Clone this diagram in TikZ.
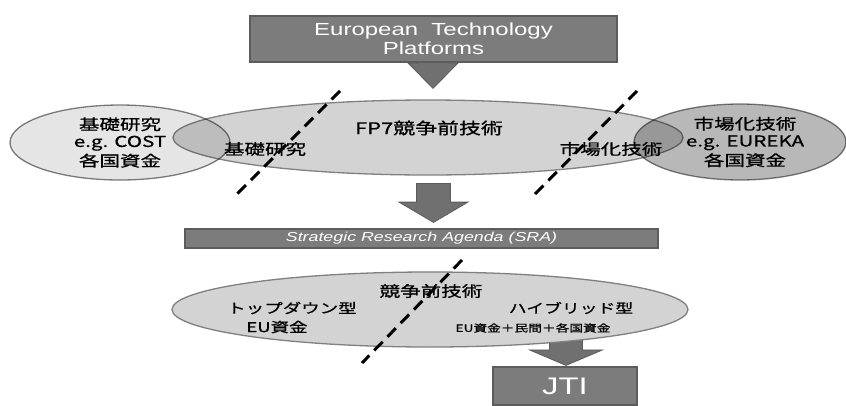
\documentclass[tikz,border=0pt]{standalone}
\usepackage{fontspec}
\setmainfont[FakeStretch=1.37]{Liberation Sans}
\newfontfamily\jp[FakeStretch=1.37, FakeBold=0.8]{Noto Sans CJK JP}
\usetikzlibrary{shapes.geometric, shapes.arrows, positioning}
\definecolor{cBox}{RGB}{124,124,124}
\definecolor{bBox}{RGB}{92,92,92}
\definecolor{cArrow}{RGB}{112,112,112}
\definecolor{cMain}{RGB}{211,211,211}
\definecolor{cLeft}{RGB}{229,229,229}
\definecolor{cRight}{RGB}{184,184,184}
\definecolor{bOval}{RGB}{128,128,128}

\begin{document}
\begin{tikzpicture}[
    x=1pt, y=-1pt,
    box/.style={
        draw=bBox,
        fill=cBox,
        line width=1.2pt,
        text=white,
        align=center,
        inner sep=0pt
    },
    oval/.style={
        ellipse,
        draw=bOval,
        fill=#1,
        line width=1.3pt,
        inner sep=0pt
    },
    fatarrow/.style={
        single arrow,
        shape border rotate=270,
        draw=bBox,
        fill=cArrow,
        line width=0.8pt,
        single arrow head indent=0pt,
        minimum width=0pt,
        inner ysep=0pt,
        anchor=tail
    },
    jtext/.style={font=\jp\fontsize{#1}{#1}\selectfont, inner sep=0pt},
    cut/.style={line width=3pt, dash pattern=on 12pt off 7pt}
]
\useasboundingbox (0,0) rectangle (846,405);

% arrows first, boxes on top
\node[fatarrow, inner xsep=15pt, single arrow head extend=9.5pt,
      single arrow tip angle=89, minimum height=26pt] (arr1) at (433,62) {};

\node[box, minimum width=367pt, minimum height=46pt,
      font=\fontsize{17.5}{19}\selectfont] (etp) at (433.5,39)
    {European\ \ Technology\\Platforms};

% FP7 and its neighbours
\node[oval=cMain, minimum width=510pt, minimum height=75pt] (fp7) at (428,137.5) {};
\begin{scope}[blend mode=multiply]
\node[oval=cLeft, minimum width=220pt, minimum height=75pt] (cost) at (120,142.5) {};
\node[oval=cRight, minimum width=212pt, minimum height=76pt] (eureka) at (740,142) {};
\end{scope}

\node[jtext=16] (fp7lab) at (429,128) {FP7競争前技術};
\node[jtext=15] (basic) at (265,149) {基礎研究};
\node[jtext=15] (market) at (611,149) {市場化技術};
\node[jtext=15, align=center] (costlab) at (120,142.5)
    {基礎研究\\[2pt]e.g. COST\\[2pt]各国資金};
\node[jtext=15, align=center] (eurekalab) at (745,142)
    {市場化技術\\[2pt]e.g. EUREKA\\[2pt]各国資金};

\coordinate (c1a) at (340,91);
\coordinate (c1b) at (237,194);
\coordinate (c2a) at (637,91);
\coordinate (c2b) at (535,194);
\draw[cut] (c1a) -- (c1b);
\draw[cut] (c2a) -- (c2b);

\node[fatarrow, inner xsep=16.5pt, single arrow head extend=17.5pt,
      single arrow tip angle=119, minimum height=39pt] (arr2) at (433.5,183) {};

% SRA
\node[box, minimum width=473pt, minimum height=19pt,
      font=\itshape\fontsize{13}{13}\selectfont] (sra) at (421.5,238.5)
    {Strategic Research Agenda (SRA)};

% pre-competitive
\node[fatarrow, inner xsep=16pt, single arrow head extend=20pt,
      single arrow tip angle=134, minimum height=27pt] (arr3) at (566,338) {};
\node[oval=cMain, minimum width=516pt, minimum height=75pt] (pre) at (430,309.5) {};

\node[jtext=15] (prelab) at (431,291) {競争前技術};
\node[jtext=13.5] (topdown) at (292,308) {トップダウン型};
\node[jtext=13.5] (eufund) at (277,327) {EU資金};
\node[jtext=13] (hybrid) at (571,308) {ハイブリッド型};
\node[jtext=10] (mixfund) at (533,328) {EU資金＋民間＋各国資金};

\coordinate (c3a) at (462,260);
\coordinate (c3b) at (362,363);
\draw[cut] (c3a) -- (c3b);

\node[box, minimum width=144pt, minimum height=38pt,
      font=\fontsize{24}{24}\selectfont] (jti) at (565,386) {JTI};

\end{tikzpicture}
\end{document}
